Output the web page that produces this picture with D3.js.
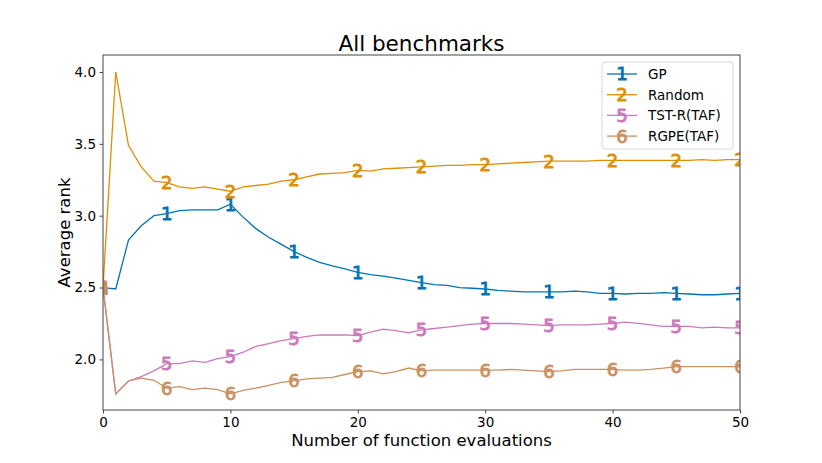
<!DOCTYPE html>
<html lang="en">
<head>
<meta charset="UTF-8">
<title>All benchmarks</title>
<script src="https://cdn.jsdelivr.net/npm/d3@7"></script>
<style>
  body { margin: 0; background: #fff; font-family: "DejaVu Sans", sans-serif; }
  svg text { font-family: "DejaVu Sans", sans-serif; }
</style>
</head>
<body>
<div id="chart"></div>
<script>
// Data
const evals = d3.range(0, 51);
const seriesNames = ["GP", "Random", "TST-R(TAF)", "RGPE(TAF)"];
const markerDigits = ["1", "2", "5", "6"];
const seriesColors = ["#0173b2", "#de8f05", "#cc78bc", "#ca9161"];

const gp = [2.50, 2.49, 2.83, 2.93, 3.00, 3.015, 3.035, 3.04, 3.04, 3.04,
  3.08, 2.99, 2.91, 2.85, 2.80, 2.75, 2.71, 2.675, 2.65, 2.63,
  2.605, 2.59, 2.58, 2.565, 2.55, 2.535, 2.52, 2.515, 2.50, 2.495,
  2.49, 2.48, 2.475, 2.47, 2.47, 2.47, 2.47, 2.475, 2.47, 2.46,
  2.46, 2.455, 2.46, 2.46, 2.465, 2.46, 2.455, 2.45, 2.45, 2.455, 2.46];
const random = [2.50, 4.00, 3.49, 3.34, 3.24, 3.23, 3.20, 3.19, 3.20, 3.185,
  3.17, 3.20, 3.21, 3.22, 3.24, 3.25, 3.27, 3.29, 3.295, 3.30,
  3.315, 3.31, 3.325, 3.33, 3.335, 3.34, 3.345, 3.35, 3.35, 3.355,
  3.355, 3.36, 3.365, 3.37, 3.375, 3.38, 3.38, 3.38, 3.38, 3.385,
  3.385, 3.385, 3.385, 3.385, 3.385, 3.385, 3.385, 3.39, 3.385, 3.39, 3.39];
const tstr = [2.50, 1.76, 1.85, 1.88, 1.92, 1.97, 1.97, 1.99, 1.98, 2.005,
  2.02, 2.05, 2.09, 2.11, 2.13, 2.145, 2.16, 2.17, 2.17, 2.17,
  2.165, 2.19, 2.21, 2.20, 2.185, 2.205, 2.215, 2.225, 2.235, 2.245,
  2.25, 2.25, 2.25, 2.245, 2.24, 2.235, 2.24, 2.24, 2.24, 2.245,
  2.25, 2.26, 2.25, 2.24, 2.23, 2.23, 2.23, 2.22, 2.225, 2.22, 2.22];
const rgpe = [2.50, 1.76, 1.85, 1.87, 1.855, 1.80, 1.81, 1.79, 1.80, 1.79,
  1.76, 1.785, 1.80, 1.82, 1.84, 1.85, 1.865, 1.87, 1.875, 1.895,
  1.915, 1.92, 1.90, 1.915, 1.94, 1.92, 1.925, 1.925, 1.925, 1.925,
  1.925, 1.925, 1.93, 1.925, 1.92, 1.915, 1.92, 1.93, 1.93, 1.93,
  1.93, 1.925, 1.925, 1.93, 1.94, 1.95, 1.95, 1.95, 1.95, 1.95, 1.95];
const allSeries = [gp, random, tstr, rgpe];

const xTicks = [0, 10, 20, 30, 40, 50];
const yTicks = [2.0, 2.5, 3.0, 3.5, 4.0];

// Layout
const W = 822, H = 463;
const margin = { top: 55, right: 82, bottom: 53, left: 103 };
const width = W - margin.left - margin.right,
      height = H - margin.top - margin.bottom;

const svg = d3.select("#chart").append("svg")
    .attr("width", W)
    .attr("height", H);

const g = svg.append("g")
    .attr("transform", `translate(${margin.left},${margin.top})`);

const x = d3.scaleLinear().domain([0, 50]).range([0, width]);
const y = d3.scaleLinear().domain([1.648, 4.118]).range([height, 0]);

svg.append("defs").append("clipPath").attr("id", "plotclip")
  .append("rect").attr("width", width).attr("height", height);

// Axes
const xAxis = g.append("g")
    .attr("transform", `translate(0,${height})`)
    .call(d3.axisBottom(x).tickValues(xTicks).tickSizeOuter(0).tickSize(3.5).tickPadding(3.5));
const yAxis = g.append("g")
    .call(d3.axisLeft(y).tickValues(yTicks).tickFormat(d3.format(".1f")).tickSizeOuter(0).tickSize(3.5).tickPadding(3.5));
[xAxis, yAxis].forEach(a => {
  a.select(".domain").remove();
  a.selectAll("line").attr("stroke", "#444").attr("stroke-width", 1);
  a.selectAll("text").attr("font-size", 13.5).attr("fill", "#000");
});

// Lines + markers
const line = d3.line().x((d, i) => x(evals[i])).y(d => y(d));
const plot = g.append("g").attr("clip-path", "url(#plotclip)");

allSeries.forEach((s, k) => {
  plot.append("path")
      .datum(s)
      .attr("fill", "none")
      .attr("stroke", seriesColors[k])
      .attr("stroke-width", 1.3)
      .attr("d", line);
  plot.append("g")
    .selectAll("text")
    .data(evals.filter(e => e % 5 === 0))
    .enter().append("text")
      .attr("x", e => x(e))
      .attr("y", e => y(s[e]))
      .attr("dy", "0.36em")
      .attr("text-anchor", "middle")
      .attr("font-size", 18)
      .attr("fill", seriesColors[k])
      .attr("stroke", seriesColors[k])
      .attr("stroke-width", 0.9)
      .text(markerDigits[k]);
});

// Frame
g.append("rect")
    .attr("width", width).attr("height", height)
    .attr("fill", "none").attr("stroke", "#444").attr("stroke-width", 1);

// Title and axis labels
svg.append("text")
    .attr("x", margin.left + width / 2).attr("y", 51)
    .attr("text-anchor", "middle").attr("font-size", 21.5)
    .text("All benchmarks");
svg.append("text")
    .attr("x", margin.left + width / 2).attr("y", 446)
    .attr("text-anchor", "middle").attr("font-size", 16.5)
    .text("Number of function evaluations");
svg.append("text")
    .attr("transform", `translate(70,${margin.top + height / 2}) rotate(-90)`)
    .attr("text-anchor", "middle").attr("font-size", 16.5)
    .text("Average rank");

// Legend
const legend = svg.append("g").attr("transform", "translate(602,62)");
legend.append("rect")
    .attr("width", 131).attr("height", 87).attr("rx", 3)
    .attr("fill", "#fff").attr("fill-opacity", 0.8)
    .attr("stroke", "#ccc").attr("stroke-width", 0.8);
seriesNames.forEach((name, k) => {
  const row = legend.append("g").attr("transform", `translate(0,${12 + k * 20.7})`);
  row.append("line")
      .attr("x1", 5).attr("x2", 35)
      .attr("stroke", seriesColors[k]).attr("stroke-width", 1.3);
  row.append("text")
      .attr("x", 20).attr("dy", "0.36em")
      .attr("text-anchor", "middle").attr("font-size", 18)
      .attr("fill", seriesColors[k]).attr("stroke", seriesColors[k]).attr("stroke-width", 0.9)
      .text(markerDigits[k]);
  row.append("text")
      .attr("x", 46).attr("dy", "0.36em")
      .attr("font-size", 13.5)
      .text(name);
});
</script>
</body>
</html>
